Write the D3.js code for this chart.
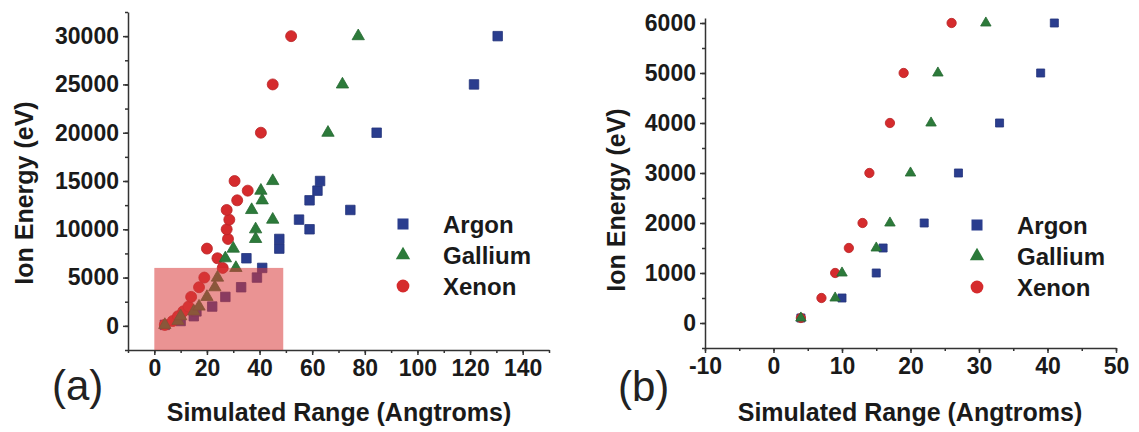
<!DOCTYPE html>
<html>
<head>
<meta charset="utf-8">
<script src="https://cdn.jsdelivr.net/npm/d3@7"></script>
<style>
  body { margin: 0; background: #fff; }
  svg text { font-family: "Liberation Sans", Arial, sans-serif; }
  .tickLab text { font-size: 23px; font-weight: bold; fill: #1a1a1a; }
  .tickLab path, .tickLab line, .minor line { stroke: #333; stroke-width: 1.5; }
  .axTitle { font-size: 25px; font-weight: bold; fill: #1a1a1a; }
  .legText { font-size: 24px; font-weight: bold; fill: #1a1a1a; }
  .panelTag { font-size: 42px; fill: #222; }
</style>
</head>
<body>
<div id="chart"></div>
<script>
// ion energy (eV) shared by all three ions
var energies = [100, 500, 1000, 1500, 2000, 3000, 4000, 5000, 6000, 7000, 8000, 9000,
  10000, 11000, 12000, 13000, 14000, 15000, 20000, 25000, 30000];

// simulated range (Angstroms) for each energy above
var argonRange = [4, 10, 15, 16, 22, 27, 33, 39, 41, 35, 47.5, 47.5,
  59, 55, 74.5, 59, 62, 63, 84.5, 121.5, 130.5];
var galliumRange = [4, 9, 10, 15, 17, 20, 23, 24, 31, 27, 30, 38.5,
  38.5, 45, 37, 41, 40.5, 45, 66, 71.5, 77.5];
var xenonRange = [4, 7, 9, 11, 13, 14, 17, 19, 26, 24, 20, 28,
  27.5, 28.5, 27.5, 31.5, 35.5, 30.5, 40.5, 45, 52];

var ionNames = ["Argon", "Gallium", "Xenon"];

var xTicksA = [0, 20, 40, 60, 80, 100, 120, 140];
var yTicksA = [0, 5000, 10000, 15000, 20000, 25000, 30000];
var xTicksB = [-10, 0, 10, 20, 30, 40, 50];
var yTicksB = [0, 1000, 2000, 3000, 4000, 5000, 6000];

// zoom box drawn on panel (a): range 0..49, energy up to 6000
var boxRange = [0, 49];
var boxEnergy = 6000;

var ions = [
  { name: ionNames[0], shape: d3.symbolSquare, color: "#2a3d8e", ranges: argonRange },
  { name: ionNames[1], shape: d3.symbolTriangle, color: "#2c7a3a", ranges: galliumRange },
  { name: ionNames[2], shape: d3.symbolCircle, color: "#d52b2d", ranges: xenonRange }
];
var drawOrder = [0, 2, 1];

var W = 1139, H = 432;
var svg = d3.select("#chart").append("svg").attr("width", W).attr("height", H);

function markerSize(shape, k) {
  if (shape === d3.symbolSquare) return 90 * k;
  if (shape === d3.symbolTriangle) return 66 * k;
  return 95 * k;
}

function minorVals(dom, step) {
  var out = [];
  for (var v = Math.ceil(dom[0] / step) * step; v <= dom[1] + 1e-9; v += step) out.push(v);
  return out;
}

// plain hyphen for negatives, like the original
function fmt(d) { return String(d); }

function drawPanel(p) {
  var g = svg.append("g");
  var x = d3.scaleLinear().domain(p.xDom).range(p.xPx);
  var y = d3.scaleLinear().domain(p.yDom).range(p.yPx);

  // minor ticks
  g.append("g").attr("class", "minor")
    .attr("transform", "translate(0," + p.yPx[0] + ")")
    .call(d3.axisBottom(x).tickValues(minorVals(p.xDom, p.xMinor)).tickSize(3).tickFormat(""))
    .select(".domain").remove();
  g.append("g").attr("class", "minor")
    .attr("transform", "translate(" + p.xPx[0] + ",0)")
    .call(d3.axisLeft(y).tickValues(minorVals(p.yDom, p.yMinor)).tickSize(3).tickFormat(""))
    .select(".domain").remove();

  g.append("g").attr("class", "tickLab")
    .attr("transform", "translate(0," + p.yPx[0] + ")")
    .call(d3.axisBottom(x).tickValues(p.xTicks).tickSize(5).tickSizeOuter(0).tickPadding(5).tickFormat(fmt));
  g.append("g").attr("class", "tickLab")
    .attr("transform", "translate(" + p.xPx[0] + ",0)")
    .call(d3.axisLeft(y).tickValues(p.yTicks).tickSize(5).tickSizeOuter(0).tickPadding(4).tickFormat(fmt));

  var pts = g.append("g");
  drawOrder.forEach(function(i) {
    var ion = ions[i];
    var data = energies.map(function(e, j) { return { e: e, r: ion.ranges[j] }; })
      .filter(function(d) { return d.e <= p.maxE; });
    pts.selectAll(null).data(data).enter()
      .append("path")
      .attr("d", d3.symbol().type(ion.shape).size(markerSize(ion.shape, p.k)))
      .attr("transform", function(d) { return "translate(" + x(d.r) + "," + y(d.e) + ")"; })
      .attr("fill", ion.color)
      .attr("stroke", d3.color(ion.color).darker(0.4))
      .attr("stroke-width", 0.8);
  });

  if (p.box) {
    g.append("rect")
      .attr("x", x(boxRange[0]))
      .attr("y", y(boxEnergy))
      .attr("width", x(boxRange[1]) - x(boxRange[0]))
      .attr("height", p.yPx[0] - y(boxEnergy))
      .attr("fill", "#d83a3a")
      .attr("opacity", 0.55);
  }

  // legend
  ions.forEach(function(ion, i) {
    var ly = p.legY + i * 31;
    g.append("path")
      .attr("d", d3.symbol().type(ion.shape).size(markerSize(ion.shape, 1.35)))
      .attr("transform", "translate(" + p.legX + "," + ly + ")")
      .attr("fill", ion.color);
    g.append("text").attr("class", "legText")
      .attr("x", p.legX + 40).attr("y", ly + 9)
      .text(ion.name);
  });

  g.append("text").attr("class", "axTitle")
    .attr("text-anchor", "middle")
    .attr("transform", "translate(" + p.yTitle[0] + "," + p.yTitle[1] + ")rotate(-90)")
    .text("Ion Energy (eV)");
  g.append("text").attr("class", "axTitle")
    .attr("text-anchor", "middle")
    .attr("x", p.xTitle[0]).attr("y", p.xTitle[1])
    .text("Simulated Range (Angtroms)");
  g.append("text").attr("class", "panelTag")
    .attr("x", p.tag[0]).attr("y", p.tag[1])
    .text(p.tagText);
}

drawPanel({
  xDom: [-10, 150], xPx: [128, 549], yDom: [-2500, 32500], yPx: [350, 12],
  xTicks: xTicksA, yTicks: yTicksA, xMinor: 10, yMinor: 2500,
  maxE: 30000, k: 1, box: true,
  legX: 403, legY: 224, yTitle: [33, 193], xTitle: [339, 421],
  tag: [52, 400], tagText: "(a)"
});

drawPanel({
  xDom: [-10, 50], xPx: [705, 1116], yDom: [-500, 6100], yPx: [348, 18],
  xTicks: xTicksB, yTicks: yTicksB, xMinor: 5, yMinor: 500,
  maxE: 6000, k: 0.72, box: false,
  legX: 977, legY: 225, yTitle: [625, 200], xTitle: [910, 421],
  tag: [618, 401], tagText: "(b)"
});
</script>
</body>
</html>
